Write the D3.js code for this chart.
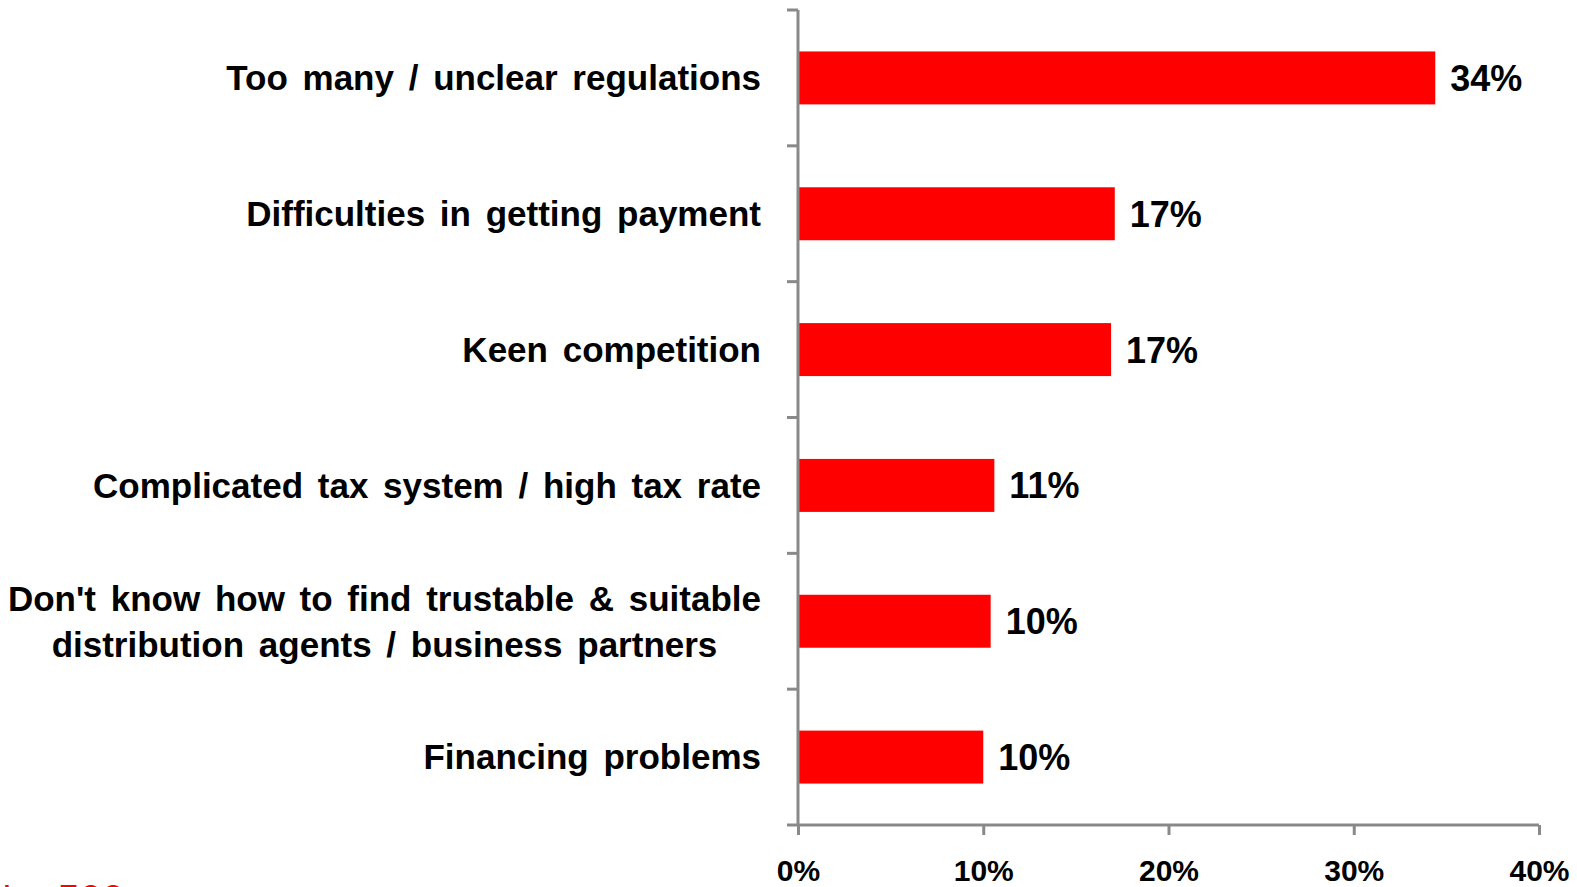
<!DOCTYPE html>
<html>
<head>
<meta charset="utf-8">
<script src="https://cdn.jsdelivr.net/npm/d3@7"></script>
<style>
  html, body { margin: 0; padding: 0; background: #fff; overflow: hidden; }
  svg { display: block; font-family: "Liberation Sans", Arial, sans-serif; }
</style>
</head>
<body>
<svg id="chart" width="1577" height="887"></svg>
<script>
// Survey: main difficulties reported (share of respondents)
const categories = [
  "Too many / unclear regulations",
  "Difficulties in getting payment",
  "Keen competition",
  "Complicated tax system / high tax rate",
  "Don't know how to find trustable & suitable\ndistribution agents / business partners",
  "Financing problems"
];
const shares = [34.4, 17.1, 16.9, 10.6, 10.4, 10.0];
const xTicks = [0, 10, 20, 30, 40];
const sampleNote = "N = 500";

const svg = d3.select("#chart");
const margin = { left: 798, right: 38, top: 10, bottom: 62 };
const W = 1577, H = 887;

const x = d3.scaleLinear().domain([0, 40]).range([margin.left, W - margin.right]);
const y = d3.scaleBand().domain(categories)
  .range([margin.top, H - margin.bottom])
  .paddingInner(0.61).paddingOuter(0.305);

const axisColor = "#898989";

// bars
svg.append("g").selectAll("rect").data(categories).join("rect")
  .attr("x", x(0))
  .attr("y", d => y(d))
  .attr("width", (d, i) => x(shares[i]) - x(0))
  .attr("height", y.bandwidth())
  .attr("fill", "#ff0000");

// y axis line with ticks on category boundaries
const step = y.step();
const boundaries = d3.range(categories.length + 1).map(i => margin.top + i * step);
const yAxis = svg.append("g");
yAxis.append("line")
  .attr("x1", x(0)).attr("x2", x(0))
  .attr("y1", margin.top).attr("y2", H - margin.bottom)
  .attr("stroke", axisColor).attr("stroke-width", 3);
yAxis.selectAll("line.tk").data(boundaries.slice(0, -1)).join("line")
  .attr("class", "tk")
  .attr("x1", x(0) - 11).attr("x2", x(0))
  .attr("y1", d => d).attr("y2", d => d)
  .attr("stroke", axisColor).attr("stroke-width", 3);

// x axis
const xAxis = d3.axisBottom(x).tickValues(xTicks).tickFormat(d => d + "%")
  .tickSize(10).tickSizeOuter(0).tickPadding(25);
const gx = svg.append("g").attr("transform", `translate(0,${H - margin.bottom})`).call(xAxis);
gx.select(".domain").attr("stroke", axisColor).attr("stroke-width", 3)
  .attr("d", `M${x(0) - 11},0H${x(40)}`);
gx.selectAll(".tick line").attr("stroke", axisColor).attr("stroke-width", 3);
gx.selectAll(".tick text")
  .attr("fill", "#000")
  .style("font-size", "30px")
  .style("font-weight", "bold")
  .style("font-family", "Liberation Sans, Arial, sans-serif");

// category labels: right-aligned block, multi-line labels centred within it
const labelRight = 761;
const lineGap = 46;
const labels = svg.append("g")
  .style("font-size", "35px").style("font-weight", "bold").attr("fill", "#000");
categories.forEach(c => {
  const lines = c.split("\n");
  const cy = y(c) + y.bandwidth() / 2;
  const t = labels.append("text").attr("word-spacing", "5px");
  const spans = lines.map((ln, i) => t.append("tspan")
    .attr("y", cy - (lines.length - 1) * lineGap / 2 + i * lineGap)
    .attr("dy", "0.35em")
    .text(ln));
  if (lines.length === 1) {
    t.attr("text-anchor", "end");
    spans[0].attr("x", labelRight);
  } else {
    const widest = d3.max(spans, s => s.node().getComputedTextLength());
    spans.forEach(s => s.attr("x", labelRight - widest / 2));
    t.attr("text-anchor", "middle");
  }
});

// value labels
svg.append("g").selectAll("text").data(categories).join("text")
  .attr("x", (d, i) => x(shares[i]) + 15)
  .attr("y", d => y(d) + y.bandwidth() / 2)
  .attr("dy", "0.36em")
  .style("font-size", "36px").style("font-weight", "bold")
  .attr("fill", "#000")
  .text((d, i) => d3.format(".0f")(shares[i]) + "%");

// sample size note, bottom-left
svg.append("text")
  .attr("x", -17).attr("y", 913)
  .style("font-size", "40px")
  .attr("fill", "#ff0000")
  .text(sampleNote);
</script>
</body>
</html>
